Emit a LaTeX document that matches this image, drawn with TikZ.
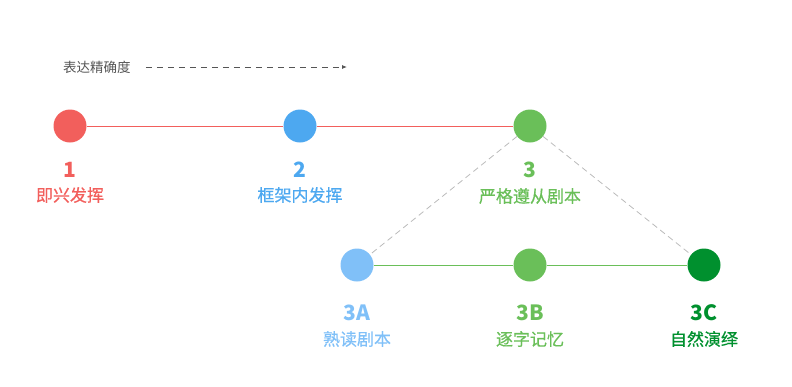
\documentclass[tikz,border=0pt]{standalone}
\usepackage{fontspec}
\setmainfont{Noto Sans CJK SC}
\newfontfamily\stmed[FakeBold=0.6]{Noto Sans CJK SC}
\usetikzlibrary{positioning,arrows.meta}
\definecolor{stRed}{HTML}{F25F5C}
\definecolor{stBlue}{HTML}{4DA8F0}
\definecolor{stGreen}{HTML}{6ABF59}
\definecolor{stBlueL}{HTML}{80C0F8}
\definecolor{stGreenD}{HTML}{00902E}
\definecolor{stGray}{HTML}{555555}
\definecolor{stGrayL}{HTML}{BBBBBB}
\tikzset{
  st-dot/.style={circle, minimum size=33pt, inner sep=0pt},
  st-num/.style={font=\fontsize{21}{24}\selectfont\bfseries, inner sep=0pt},
  st-txt/.style={font=\stmed\fontsize{17}{20}\selectfont, inner sep=0pt},
  st-line/.style={line width=0.8pt},
  st-dash/.style={line width=0.8pt, draw=stGrayL, dash pattern=on 6pt off 4pt}
}
\begin{document}
\begin{tikzpicture}[x=1pt, y=-1pt]
\useasboundingbox (0,0) rectangle (792,386);
% top caption
\node[font=\fontsize{13.5}{16}\selectfont, text=stGray, anchor=west, inner sep=0pt]
  (cap) at (63,67) {表达精确度};
\coordinate (capend) at (347,67);
\draw[-{Latex[length=5pt,width=4pt]}, line width=0.8pt, draw=stGray,
  dash pattern=on 6pt off 5pt] (cap.east) ++(15,0) coordinate (capstart) -- (capend);

% main row
\node[st-dot, fill=stRed] (n1) at (70,126) {};
\node[st-dot, fill=stBlue] (n2) at (300,126) {};
\node[st-dot, fill=stGreen] (n3) at (530,126) {};
% sub row
\node[st-dot, fill=stBlueL] (n3a) at (357,265) {};
\node[st-dot, fill=stGreen] (n3b) at (530,265) {};
\node[st-dot, fill=stGreenD] (n3c) at (704,265) {};

\draw[st-line, draw=stRed] (n1) -- (n2);
\draw[st-line, draw=stRed] (n2) -- (n3);
\draw[st-line, draw=stGreen] (n3a) -- (n3b);
\draw[st-line, draw=stGreen] (n3b) -- (n3c);
\draw[st-dash] (n3) -- (n3a);
\draw[st-dash] (n3) -- (n3c);

% labels
\node[st-num, text=stRed] (l1) at (70,170) {1};
\node[st-txt, text=stRed] (t1) at (70,195) {即兴发挥};
\node[st-num, text=stBlue] (l2) at (300,170) {2};
\node[st-txt, text=stBlue] (t2) at (300,195) {框架内发挥};
\node[st-num, text=stGreen] (l3) at (530,170) {3};
\node[st-txt, text=stGreen] (t3) at (530,196) {严格遵从剧本};
\node[st-num, text=stBlueL] (l3a) at (357,313) {3A};
\node[st-txt, text=stBlueL] (t3a) at (357,339) {熟读剧本};
\node[st-num, text=stGreen] (l3b) at (530,313) {3B};
\node[st-txt, text=stGreen] (t3b) at (530,339) {逐字记忆};
\node[st-num, text=stGreenD] (l3c) at (704,313) {3C};
\node[st-txt, text=stGreenD] (t3c) at (704,339) {自然演绎};
\end{tikzpicture}
\end{document}
